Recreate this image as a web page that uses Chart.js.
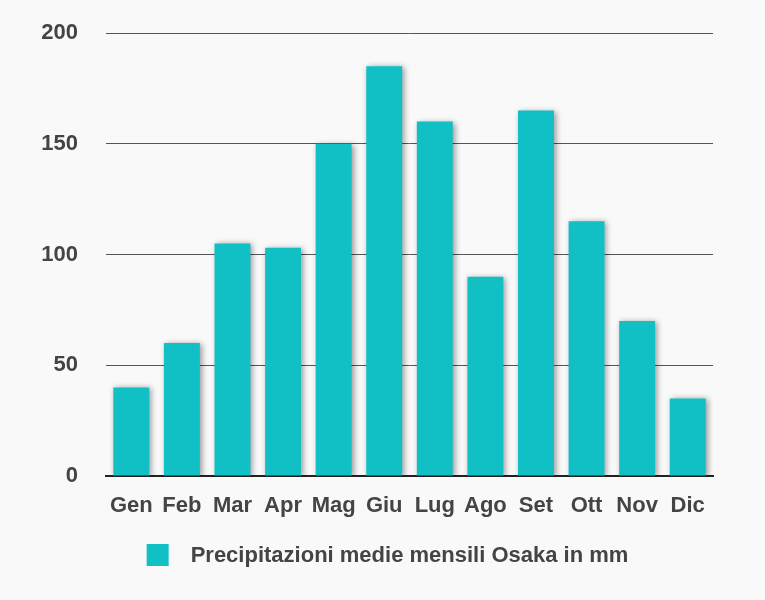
<!DOCTYPE html>
<html>
<head>
<meta charset="utf-8">
<script src="https://cdn.jsdelivr.net/npm/chart.js@4/dist/chart.umd.min.js"></script>
<style>
  html, body { margin: 0; padding: 0; background: #f9f9f9; }
  #wrap { width: 765px; height: 600px; }
</style>
</head>
<body>
<div id="wrap"><canvas id="c" width="765" height="600"></canvas></div>
<script>
const categories = ['Gen','Feb','Mar','Apr','Mag','Giu','Lug','Ago','Set','Ott','Nov','Dic'];
const seriesLabel = 'Precipitazioni medie mensili Osaka in mm';
const precipitation = [40, 60, 105, 103, 150, 185, 160, 90, 165, 115, 70, 35];
const yTicks = [0, 50, 100, 150, 200];

const barColor = '#10c0c5';
const textColor = '#444444';
const fontFamily = '"Liberation Sans", Arial, Helvetica, sans-serif';

const shadowPlugin = {
  id: 'barShadow',
  beforeDatasetsDraw(chart) {
    const ctx = chart.ctx;
    ctx.save();
    ctx.shadowColor = 'rgba(0,0,0,0.4)';
    ctx.shadowBlur = 6;
    ctx.shadowOffsetX = 2;
    ctx.shadowOffsetY = 1;
  },
  afterDatasetsDraw(chart) {
    chart.ctx.restore();
  }
};

const legendPlugin = {
  id: 'customLegend',
  afterDraw(chart) {
    const ctx = chart.ctx;
    const ds = chart.data.datasets[0];
    ctx.save();
    ctx.font = 'bold 22px ' + fontFamily;
    const tw = ctx.measureText(ds.label).width;
    const box = 22, gap = 22;
    const total = box + gap + tw;
    const x0 = (chart.width - total) / 2 + 5;
    const cy = 555;
    ctx.fillStyle = ds.backgroundColor;
    ctx.fillRect(x0, cy - box / 2, box, box);
    ctx.fillStyle = textColor;
    ctx.textBaseline = 'middle';
    ctx.textAlign = 'left';
    ctx.fillText(ds.label, x0 + box + gap, cy + 1);
    ctx.restore();
  }
};

new Chart(document.getElementById('c'), {
  type: 'bar',
  data: {
    labels: categories,
    datasets: [{
      label: seriesLabel,
      data: precipitation,
      backgroundColor: barColor,
      borderWidth: 0,
      barPercentage: 0.71,
      categoryPercentage: 1.0
    }]
  },
  options: {
    responsive: false,
    animation: false,
    layout: { padding: { top: 33, right: 52, left: 0, bottom: 0 } },
    plugins: {
      legend: { display: false },
      tooltip: { enabled: false }
    },
    scales: {
      x: {
        grid: { display: false, drawTicks: false },
        border: { display: true, color: '#222222', width: 2 },
        ticks: {
          color: textColor,
          font: { family: fontFamily, size: 22, weight: 'bold' },
          padding: 17,
          maxRotation: 0
        },
        afterFit(scale) { scale.height = 124; }
      },
      y: {
        min: 0,
        max: 200,
        afterBuildTicks(scale) { scale.ticks = yTicks.map(v => ({ value: v })); },
        grid: {
          color: '#555555',
          lineWidth: 1,
          drawTicks: false
        },
        border: { display: false },
        ticks: {
          color: textColor,
          font: { family: fontFamily, size: 22, weight: 'bold' },
          padding: 28
        },
        afterFit(scale) {
          scale.width = 106;
          scale.paddingTop = 0;
          scale.paddingBottom = 0;
        }
      }
    }
  },
  plugins: [shadowPlugin, legendPlugin]
});
</script>
</body>
</html>
